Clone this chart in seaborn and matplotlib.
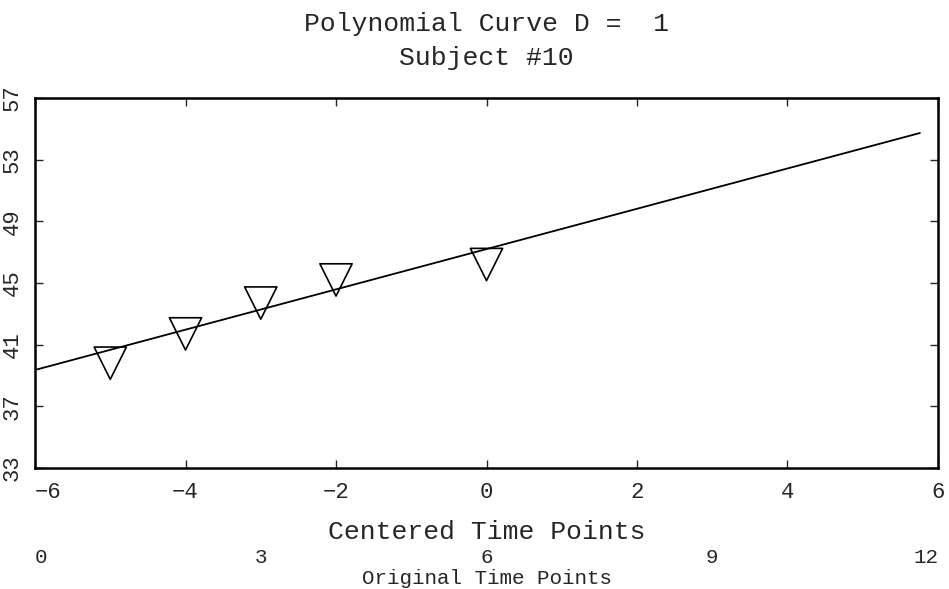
import numpy as np
import pandas as pd
import matplotlib
matplotlib.use("Agg")
import matplotlib.pyplot as plt
import seaborn as sns

# observed scores for subject #10 (centered time)
centered_time = [-5, -4, -3, -2, 0]
score = [39.8, 41.7, 43.7, 45.2, 46.2]

# fitted polynomial curve, degree 1
fit_time = [-6.0, 5.76]
fit_score = [39.36, 54.73]

x_ticks = [-6, -4, -2, 0, 2, 4, 6]
y_ticks = [33, 37, 41, 45, 49, 53, 57]
orig_ticks = [0, 3, 6, 9, 12]

points = pd.DataFrame({"time": centered_time, "score": score})
curve = pd.DataFrame({"time": fit_time, "score": fit_score})

sns.set_theme(style="ticks")
plt.rcParams["font.family"] = ["Liberation Mono", "DejaVu Sans Mono"]
plt.rcParams["axes.unicode_minus"] = True

fig = plt.figure(figsize=(9.49, 5.89), dpi=100)
ax = fig.add_axes([0.0369, 0.2054, 0.9515, 0.6282])

sns.lineplot(data=curve, x="time", y="score", color="black", linewidth=1.3, ax=ax)
sns.scatterplot(data=points, x="time", y="score", marker="v", s=540,
                facecolor="none", edgecolor="black", linewidth=1.2, ax=ax)

ax.set_xlim(-6, 6)
ax.set_ylim(33, 57)
ax.set_xticks(x_ticks)
ax.set_yticks(y_ticks)
ax.set_xticklabels([str(t).replace("-", "\u2212") for t in x_ticks], fontsize=16)
ax.set_yticklabels([str(t) for t in y_ticks], fontsize=16, rotation=90, va="center")
ax.get_xticklabels()[0].set_ha("left")

ax.tick_params(direction="in", length=6, width=1, top=True, right=True)
ax.tick_params(axis="x", pad=10)
ax.tick_params(axis="y", pad=9)
for sp in ax.spines.values():
    sp.set_linewidth(1.8)
    sp.set_color("black")

ax.set_xlabel("Centered Time Points", fontsize=19, labelpad=12)
ax.set_ylabel("")
ax.set_title("Polynomial Curve D =  1\nSubject #10", fontsize=19, pad=24,
             linespacing=1.5)

# original time axis underneath
sec = ax.secondary_xaxis(-0.215, functions=(lambda x: x + 6, lambda x: x - 6))
sec.set_xticks(orig_ticks)
sec.set_xticklabels([str(t) for t in orig_ticks], fontsize=15)
sec.get_xticklabels()[0].set_ha("left")
sec.get_xticklabels()[-1].set_ha("right")
sec.tick_params(length=0, pad=0)
sec.spines["bottom"].set_visible(False)
sec.set_xlabel("Original Time Points", fontsize=15, labelpad=2)

fig.savefig("out.png", dpi=100, facecolor="white")
